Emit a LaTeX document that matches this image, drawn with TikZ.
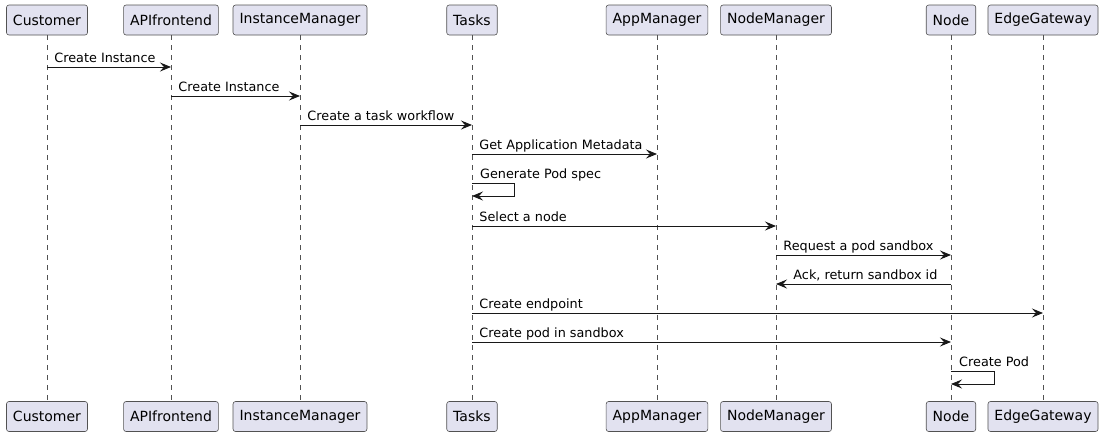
\documentclass[tikz,border=0pt]{standalone}
\usepackage{fontspec}
\setmainfont{DejaVu Sans}
\usetikzlibrary{arrows.meta}

\definecolor{boxfill}{HTML}{E2E2F0}
\definecolor{ink}{HTML}{181818}

\tikzstyle{participant}=[rectangle,
                        rounded corners=2.5pt,
                        draw=ink!75,
                        line width=0.6pt,
                        fill=boxfill,
                        minimum height=30pt,
                        inner xsep=6.5pt,
                        font=\fontsize{14}{16}\selectfont]
\tikzstyle{lifeline}=[draw=ink!75,
                        line width=0.6pt,
                        dash pattern=on 5pt off 5pt]
\tikzstyle{message}=[draw=ink,
                        line width=0.9pt,
                        -{Stealth[length=11pt,width=9pt,inset=4pt]}]
\tikzstyle{msglabel}=[inner sep=0pt,
                        anchor=base west,
                        yshift=5pt,
                        font=\fontsize{12.8}{15}\selectfont]

\begin{document}
\begin{tikzpicture}[x=1pt,y=-1pt]
  \useasboundingbox (0,0) rectangle (1104,437);

  % participants, top and bottom
  \node (cust)      [participant] at (47,20)    {Customer};
  \node (api)       [participant] at (171,20)   {APIfrontend};
  \node (inst)      [participant] at (300,20)   {InstanceManager};
  \node (tasks)     [participant] at (472,20)   {Tasks};
  \node (app)       [participant] at (657,20)   {AppManager};
  \node (nodemgr)   [participant] at (776,20)   {NodeManager};
  \node (node)      [participant] at (951,20)   {Node};
  \node (edge)      [participant] at (1043,20)  {EdgeGateway};

  \node (cust-b)    [participant] at (47,416.5)   {Customer};
  \node (api-b)     [participant] at (171,416.5)  {APIfrontend};
  \node (inst-b)    [participant] at (300,416.5)  {InstanceManager};
  \node (tasks-b)   [participant] at (472,416.5)  {Tasks};
  \node (app-b)     [participant] at (657,416.5)  {AppManager};
  \node (nodemgr-b) [participant] at (776,416.5)  {NodeManager};
  \node (node-b)    [participant] at (951,416.5)  {Node};
  \node (edge-b)    [participant] at (1043,416.5) {EdgeGateway};

  % lifelines
  \foreach \p in {cust,api,inst,tasks,app,nodemgr,node,edge}
    \draw[lifeline] (\p.south) -- (\p-b.north);

  % message rows
  \coordinate (m1) at (0,67);
  \coordinate (m2) at (0,96);
  \coordinate (m3) at (0,125);
  \coordinate (m4) at (0,154);
  \coordinate (m5) at (0,183);
  \coordinate (m5r) at (0,196);
  \coordinate (m6) at (0,226);
  \coordinate (m7) at (0,255);
  \coordinate (m8) at (0,284);
  \coordinate (m9) at (0,313);
  \coordinate (m10) at (0,342);
  \coordinate (m11) at (0,371);
  \coordinate (m11r) at (0,384);

  % messages
  \draw[message] (cust |- m1) -- (api |- m1)
        node[msglabel,pos=0,xshift=7pt] {Create Instance};
  \draw[message] (api |- m2) -- (inst |- m2)
        node[msglabel,pos=0,xshift=7pt] {Create Instance};
  \draw[message] (inst |- m3) -- (tasks |- m3)
        node[msglabel,pos=0,xshift=7pt] {Create a task workflow};
  \draw[message] (tasks |- m4) -- (app |- m4)
        node[msglabel,pos=0,xshift=7pt] {Get Application Metadata};
  \draw[message] (tasks |- m5) -- ++(42,0) -- ++(0,13) -- (tasks |- m5r);
  \node[msglabel,xshift=8pt] at (tasks |- m5) {Generate Pod spec};
  \draw[message] (tasks |- m6) -- (nodemgr |- m6)
        node[msglabel,pos=0,xshift=7pt] {Select a node};
  \draw[message] (nodemgr |- m7) -- (node |- m7)
        node[msglabel,pos=0,xshift=7pt] {Request a pod sandbox};
  \draw[message] (node |- m8) -- (nodemgr |- m8)
        node[msglabel,pos=1,xshift=17pt] {Ack, return sandbox id};
  \draw[message] (tasks |- m9) -- (edge |- m9)
        node[msglabel,pos=0,xshift=7pt] {Create endpoint};
  \draw[message] (tasks |- m10) -- (node |- m10)
        node[msglabel,pos=0,xshift=7pt] {Create pod in sandbox};
  \draw[message] (node |- m11) -- ++(43,0) -- ++(0,13) -- (node |- m11r);
  \node[msglabel,xshift=8pt] at (node |- m11) {Create Pod};

\end{tikzpicture}
\end{document}
